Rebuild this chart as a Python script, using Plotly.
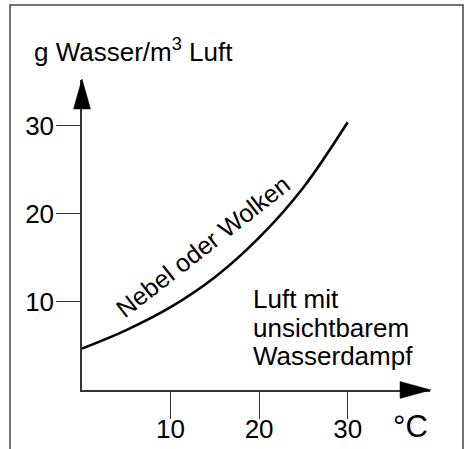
import plotly.graph_objects as go

# Data
temps = [0, 5, 10, 15, 20, 25, 30]          # °C
water = [4.7, 6.8, 9.4, 12.8, 17.3, 23.0, 30.4]  # g Wasser / m³ Luft
x_ticks = [10, 20, 30]
y_ticks = [10, 20, 30]
y_title = "g Wasser/m<sup>3</sup> Luft"
x_unit = "°C"
curve_label = "Nebel oder Wolken"
region_lines = ["Luft mit", "unsichtbarem", "Wasserdampf"]

X_MAX, Y_MAX = 39.3, 35.2
W, H = 468, 449
ML, MR, MT, MB = 82, 38, 80, 59
PW, PH = W - ML - MR, H - MT - MB

def paper_x(px):
    return (px - ML) / PW

def paper_y(py):
    return (H - MB - py) / PH

FONT = "Liberation Sans, Arial, Helvetica, sans-serif"
AX = "#333333"

fig = go.Figure()
fig.add_trace(go.Scatter(x=temps, y=water, mode="lines",
                         line=dict(color="black", width=2.6, shape="spline"),
                         hoverinfo="skip", showlegend=False))

fig.update_layout(
    width=W, height=H,
    margin=dict(l=ML, r=MR, t=MT, b=MB, autoexpand=False),
    paper_bgcolor="white", plot_bgcolor="white",
    font=dict(family=FONT, size=26, color="black"),
    xaxis=dict(range=[0, X_MAX], tickvals=x_ticks, ticks="outside", ticklen=27,
               tickwidth=1.3, tickcolor=AX, showline=True, linecolor=AX, linewidth=1.5,
               showgrid=False, zeroline=False, tickfont=dict(size=26), automargin=False,
               ticklabelstandoff=-12),
    yaxis=dict(range=[0, Y_MAX], tickvals=y_ticks, ticks="outside", ticklen=24,
               tickwidth=1.3, tickcolor=AX, showline=True, linecolor=AX, linewidth=1.5,
               showgrid=False, zeroline=False, tickfont=dict(size=26), automargin=False,
               ticklabelstandoff=-3),
    showlegend=False,
)

shapes = []
# frame
shapes.append(dict(type="rect", xref="paper", yref="paper",
                   x0=paper_x(10), x1=paper_x(463), y0=paper_y(470), y1=paper_y(5),
                   line=dict(color="#444444", width=1.5), fillcolor="rgba(0,0,0,0)", layer="below"))
# x arrow head
tx, ty = paper_x(431), paper_y(390)
bx = paper_x(400)
h = 8.5 / PH
shapes.append(dict(type="path", xref="paper", yref="paper",
                   path=f"M {tx} {ty} L {bx} {ty + h} L {bx} {ty - h} Z",
                   fillcolor="black", line=dict(color="black", width=0.5)))
# y arrow head
tx2, ty2 = paper_x(82), paper_y(79)
by = paper_y(109)
w = 8.5 / PW
shapes.append(dict(type="path", xref="paper", yref="paper",
                   path=f"M {tx2} {ty2} L {tx2 - w} {by} L {tx2 + w} {by} Z",
                   fillcolor="black", line=dict(color="black", width=0.5)))
fig.update_layout(shapes=shapes)

ann = []
ann.append(dict(xref="paper", yref="paper", x=paper_x(32), y=paper_y(50),
                xanchor="left", yanchor="middle", text=y_title, showarrow=False,
                font=dict(size=26)))
ann.append(dict(xref="paper", yref="paper", x=paper_x(410), y=paper_y(426),
                xanchor="center", yanchor="middle", text=x_unit, showarrow=False,
                font=dict(size=31)))
ann.append(dict(xref="x", yref="y", x=13.7, y=16.3, text=curve_label, textangle=-38,
                showarrow=False, font=dict(size=25)))
for i, line in enumerate(region_lines):
    ann.append(dict(xref="paper", yref="paper", x=paper_x(251), y=paper_y(299 + 28.5 * i),
                    xanchor="left", yanchor="middle", text=line, showarrow=False,
                    font=dict(size=26)))
fig.update_layout(annotations=ann)

fig.write_html("out.html", config={"displayModeBar": False},
               post_script="document.body.style.margin='0';document.body.style.overflow='hidden';")
